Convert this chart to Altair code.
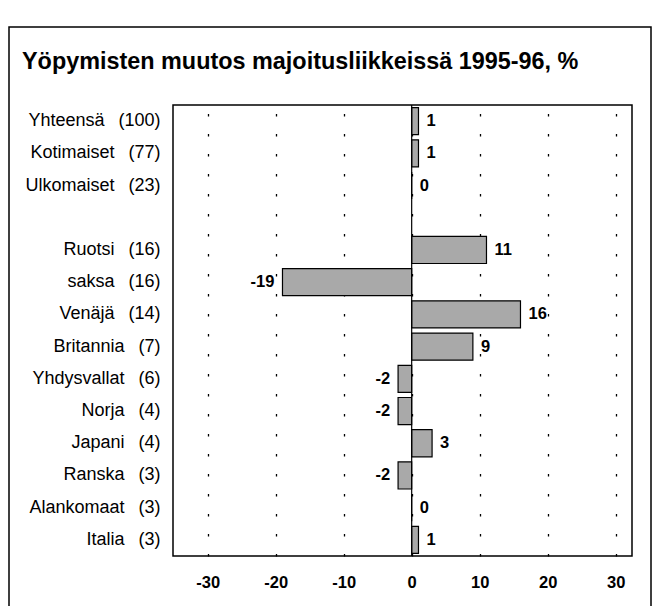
import altair as alt
import pandas as pd

# ---- data ----
names = ["Yhteensä", "Kotimaiset", "Ulkomaiset", None, "Ruotsi", "saksa", "Venäjä",
         "Britannia", "Yhdysvallat", "Norja", "Japani", "Ranska", "Alankomaat", "Italia"]
shares = [100, 77, 23, None, 16, 16, 14, 7, 6, 4, 4, 3, 3, 3]
changes = [1, 1, 0, None, 11, -19, 16, 9, -2, -2, 3, -2, 0, 1]
x_ticks = [-30, -20, -10, 0, 10, 20, 30]
title_text = "Yöpymisten muutos majoitusliikkeissä 1995-96, %"

GAP = "\u2002\u00a0"
labels = []
for n, s in zip(names, shares):
    labels.append(" " if n is None else f"{n}{GAP}({s})")

df = pd.DataFrame({
    "label": labels,
    "change": changes,
    "txt": [("" if c is None else str(c)) for c in changes],
})
bars_df = df.dropna(subset=["change"])

FONT = "Liberation Sans, Arial, Helvetica, sans-serif"

y = alt.Y("label:N", sort=labels, title=None,
          scale=alt.Scale(domain=labels, paddingInner=0.16, paddingOuter=0.08),
          axis=alt.Axis(ticks=False, domain=False, labelPadding=13, labelFontSize=18,
                        labelFont=FONT, labelColor="black", labelFontWeight="normal",
                        labelLimit=200))
x_scale = alt.Scale(domain=[-35.1, 32.4], nice=False, zero=False)

frame = alt.Chart(pd.DataFrame({"a": [0]})).mark_rect(
    fill=None, stroke="black", strokeWidth=1.5
).encode(x=alt.value(-164), x2=alt.value(478), y=alt.value(-78), y2=alt.value(560))

title = alt.Chart(pd.DataFrame({"t": [title_text]})).mark_text(
    align="left", baseline="alphabetic", font=FONT, fontSize=23.4, fontWeight="bold",
    color="black"
).encode(x=alt.value(-151), y=alt.value(-36), text="t:N")

bars = alt.Chart(bars_df).mark_bar(
    color="#a9a9a9", stroke="black", strokeWidth=1.2
).encode(
    y=y,
    x=alt.X("change:Q", scale=x_scale, title=None,
            axis=alt.Axis(values=x_ticks, grid=True, gridColor="black", gridWidth=1.3,
                          gridDash=[2.5, 17.5], ticks=False, domain=False,
                          labelPadding=18, labelFontSize=16.5, labelFont=FONT,
                          labelFontWeight="bold", labelColor="black",
                          labelExpr="'' + datum.value")),
)

zero = alt.Chart(pd.DataFrame({"z": [0]})).mark_rule(color="black", strokeWidth=1.2).encode(
    x=alt.X("z:Q", scale=x_scale)
)

pos = alt.Chart(bars_df).transform_filter("datum.change >= 0").mark_text(
    align="left", baseline="middle", dx=8, font=FONT, fontSize=16.5, fontWeight="bold",
    color="black"
).encode(y=y, x=alt.X("change:Q", scale=x_scale), text="txt:N")

neg = alt.Chart(bars_df).transform_filter("datum.change < 0").mark_text(
    align="right", baseline="middle", dx=-8, font=FONT, fontSize=16.5, fontWeight="bold",
    color="black"
).encode(y=y, x=alt.X("change:Q", scale=x_scale), text="txt:N")

chart = alt.layer(frame, title, bars, zero, pos, neg).properties(
    width=459, height=451,
    autosize=alt.AutoSizeParams(type="none"),
    padding={"left": 165, "top": 97, "right": 20, "bottom": 50},
).configure(background="white").configure_view(stroke="black", strokeWidth=1.5)

chart.save("out.html", embed_options={"renderer": "svg", "actions": False})
